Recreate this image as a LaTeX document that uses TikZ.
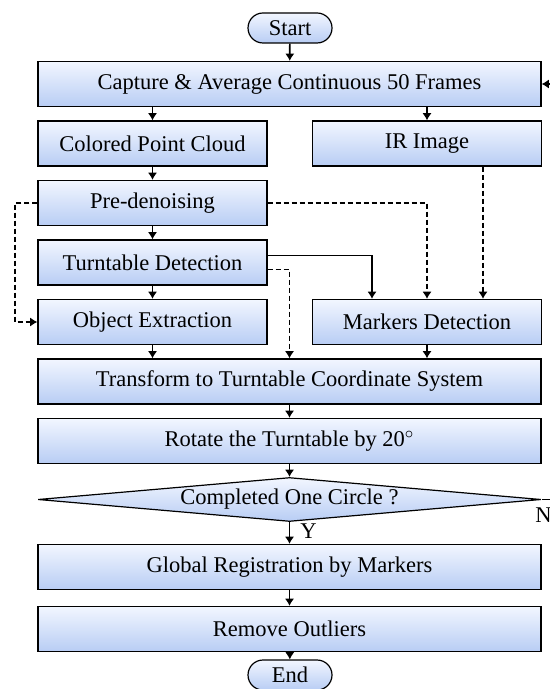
\documentclass[tikz,border=0pt]{standalone}
\usepackage{fontspec}
\setmainfont{Liberation Serif}
\usetikzlibrary{arrows.meta,shapes.geometric}
\definecolor{boxtop}{HTML}{F2F6FF}
\definecolor{boxbot}{HTML}{B8CDF4}
\tikzset{
  stepbox/.style={draw, line width=0.6pt, top color=boxtop, bottom color=boxbot, minimum height=22.5pt, inner sep=0pt},
  widebox/.style={stepbox, minimum width=251.5pt},
  halfbox/.style={stepbox, minimum width=114.5pt},
  pill/.style={stepbox, rounded corners=7.5pt, minimum width=42pt, minimum height=15pt},
  decision/.style={stepbox, diamond, aspect=11.4, minimum width=251.5pt, minimum height=22pt},
  flow/.style={-{Latex[length=3.6pt,width=4.6pt]}, line width=0.85pt},
  dflow/.style={flow, dash pattern=on 2.5pt off 1.5pt},
}
\begin{document}
\begin{tikzpicture}[x=0.5pt,y=-0.5pt,font=\fontsize{11.25}{13}\selectfont]
 \useasboundingbox (0,0) rectangle (550,689);
 \clip (0,0) rectangle (550,689);

 \node[pill] (start) at (290,28) {Start}; % 開始
 \node[widebox] (capture) at (289.5,84) {Capture \& Average Continuous 50 Frames};
 \node[halfbox] (cloud) at (152.5,143.5) {Colored Point Cloud};
 \node[halfbox] (ir) at (427,143.5) {IR Image};
 \node[halfbox] (denoise) at (152.5,203) {Pre-denoising};
 \node[halfbox] (turntable) at (152.5,262.5) {Turntable Detection};
 \node[halfbox] (object) at (152.5,322) {Object Extraction};
 \node[halfbox] (markers) at (427,322) {Markers Detection};
 \node[widebox] (transform) at (289.5,381.5) {Transform to Turntable Coordinate System};
 \node[widebox] (rotate) at (289.5,441) {Rotate the Turntable by 20$^\circ$};
 \node[decision] (circle) at (289.5,499.5) {Completed One Circle ?}; % 判定
 \node[widebox] (global) at (289.5,567) {Global Registration by Markers};
 \node[widebox] (outlier) at (289.5,629) {Remove Outliers};
 \node[pill] (end) at (290,675) {End}; % 終了

 \coordinate (leftbus) at (15,203); % 左の破線
 \coordinate (back) at (575,499.5); % 右の戻り線(枠外)

 \draw[flow] (start) -- (capture);
 \draw[flow] (cloud.north |- capture.south) -- (cloud);
 \draw[flow] (ir.north |- capture.south) -- (ir);
 \draw[flow] (cloud) -- (denoise);
 \draw[flow] (denoise) -- (turntable);
 \draw[flow] (turntable) -- (object);
 \draw[flow] (object) -- (object |- transform.north);
 \draw[flow] (markers) -- (markers |- transform.north);
 \draw[flow] ([yshift=3.5pt]turntable.east) -| ([xshift=-27.5pt]markers.north);
 \draw[dflow] ([yshift=-3.5pt]turntable.east) -| (transform.north);
 \draw[dflow] (denoise.east) -| (markers.north);
 \draw[dflow] ([xshift=28pt]ir.south) -- ([xshift=28pt]markers.north);
 \draw[dflow] (denoise.west) -- (leftbus) |- (object.west);
 \draw[flow] (transform) -- (rotate);
 \draw[flow] (rotate) -- (circle);
 \draw[flow] (circle) -- node[pos=0.4, right, inner sep=1pt, xshift=4pt] (yes) {Y} (global);
 \draw[flow] (circle.east) -- (back) |- (capture.east);
 \node (no) at ([xshift=1pt,yshift=-8pt]circle.east) {N};
 \draw[flow] (global) -- (outlier);
 \draw[flow] (outlier) -- (end);
\end{tikzpicture}
\end{document}
